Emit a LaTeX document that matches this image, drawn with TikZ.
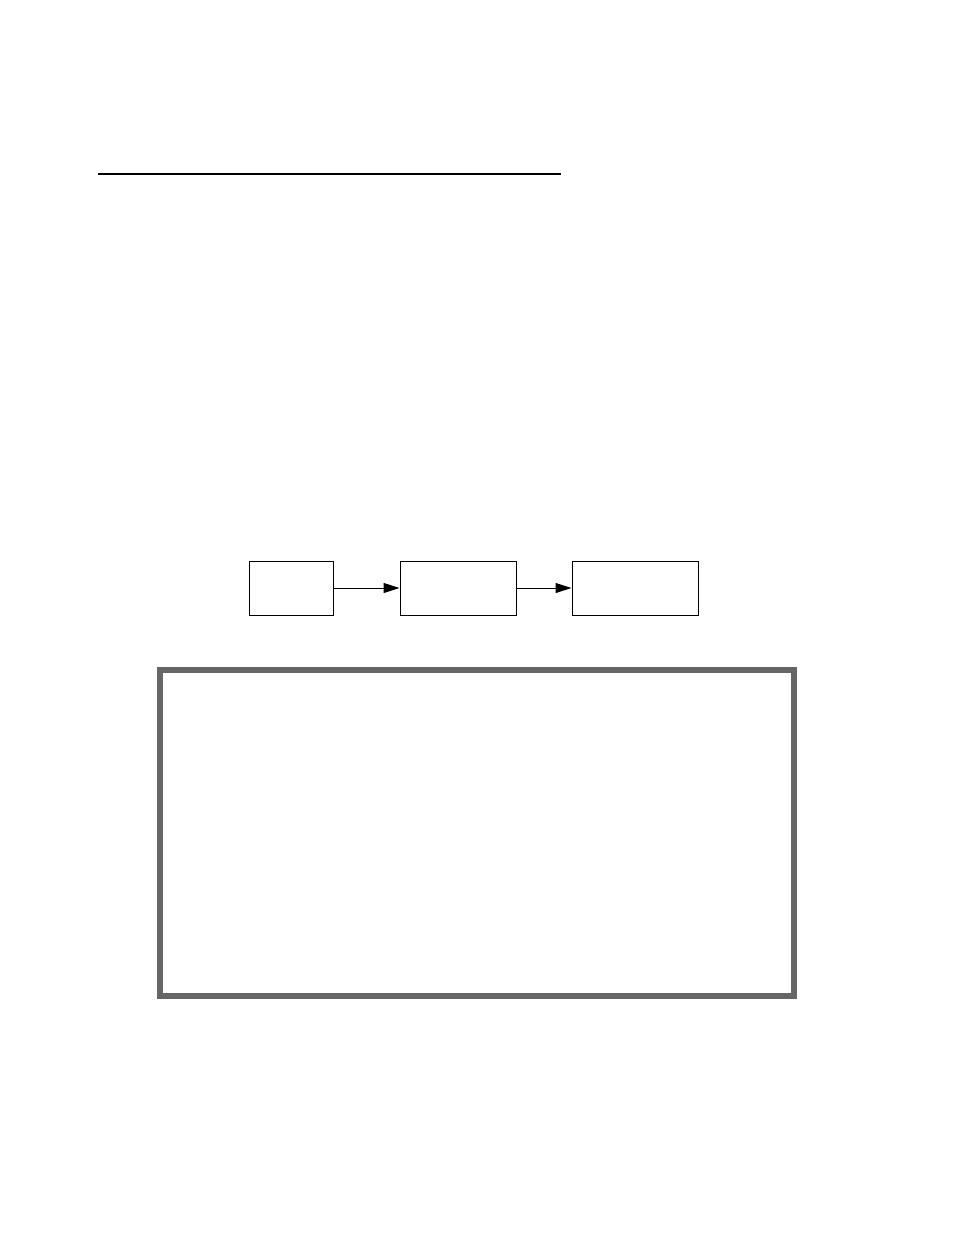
\documentclass[tikz,border=0pt]{standalone}
\usetikzlibrary{arrows.meta}
\begin{document}
\begin{tikzpicture}[x=1pt,y=-1pt,
  blk/.style={draw=black,line width=1pt,minimum height=54pt,inner sep=0pt},
  conn/.style={line width=1pt,-{Triangle[length=16pt,width=10pt]}},
  frame/.style={draw={rgb,255:red,102;green,102;blue,102},line width=6pt}]
\useasboundingbox (0,0) rectangle (954,1235);
\fill[white] (0,0) rectangle (954,1235);
\coordinate (la) at (98,174);
\coordinate (lb) at (561,174);
\draw[line width=2.5pt] (la) -- (lb);
\node[blk,minimum width=84pt] (b1) at (291,588) {};
\node[blk,minimum width=116pt] (b2) at (458,588) {};
\node[blk,minimum width=126pt] (b3) at (635,588) {};
\draw[conn] (b1.east) -- (b2.west);
\draw[conn] (b2.east) -- (b3.west);
\node[frame,minimum width=634pt,minimum height=326pt,inner sep=0pt] (fr) at (477,833) {};
\end{tikzpicture}
\end{document}
